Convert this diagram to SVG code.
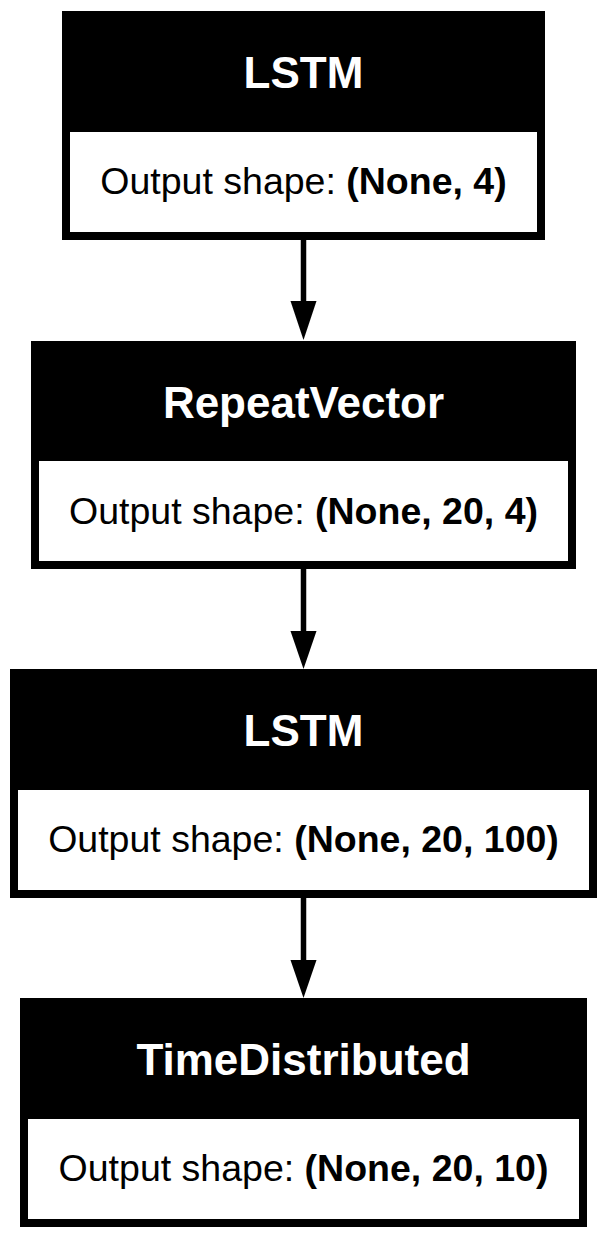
<svg xmlns="http://www.w3.org/2000/svg" width="607" height="1239" viewBox="0 0 607 1239">
<style>
.outer{fill:#000}
.inner{fill:#fff}
.title{font-family:"Liberation Sans",Arial,sans-serif;font-weight:bold;font-size:44px;fill:#fff;text-anchor:middle}
.body{font-family:"Liberation Sans",Arial,sans-serif;font-size:37.5px;fill:#000;text-anchor:middle}
.b{font-weight:bold}
.edge{stroke:#000;stroke-width:5.5;fill:none}
.head{fill:#000}
</style>
<rect width="607" height="1239" fill="#fff"/>
<g id="edges">
<line class="edge" x1="303.5" y1="240" x2="303.5" y2="302"/>
<polygon class="head" points="290.5,301 316.5,301 303.5,340"/>
<line class="edge" x1="303.5" y1="569" x2="303.5" y2="632"/>
<polygon class="head" points="290.5,631 316.5,631 303.5,669"/>
<line class="edge" x1="303.5" y1="898" x2="303.5" y2="961"/>
<polygon class="head" points="290.5,960 316.5,960 303.5,998"/>
</g>
<g id="node1">
<rect class="outer" x="62" y="11" width="483" height="229"/>
<rect class="inner" x="70" y="132" width="467" height="100"/>
<text class="title" x="303.5" y="88">LSTM</text>
<text class="body" x="303.5" y="194">Output shape: <tspan class="b">(None, 4)</tspan></text>
</g>
<g id="node2">
<rect class="outer" x="31" y="341" width="545" height="228"/>
<rect class="inner" x="39" y="461" width="529" height="100"/>
<text class="title" x="303.5" y="418">RepeatVector</text>
<text class="body" x="303.5" y="524">Output shape: <tspan class="b">(None, 20, 4)</tspan></text>
</g>
<g id="node3">
<rect class="outer" x="10" y="669" width="587" height="229"/>
<rect class="inner" x="18" y="790" width="571" height="100"/>
<text class="title" x="303.5" y="746">LSTM</text>
<text class="body" x="303.5" y="852">Output shape: <tspan class="b">(None, 20, 100)</tspan></text>
</g>
<g id="node4">
<rect class="outer" x="20" y="998" width="567" height="229"/>
<rect class="inner" x="28" y="1119" width="551" height="100"/>
<text class="title" x="303.5" y="1075">TimeDistributed</text>
<text class="body" x="303.5" y="1181">Output shape: <tspan class="b">(None, 20, 10)</tspan></text>
</g>
</svg>
